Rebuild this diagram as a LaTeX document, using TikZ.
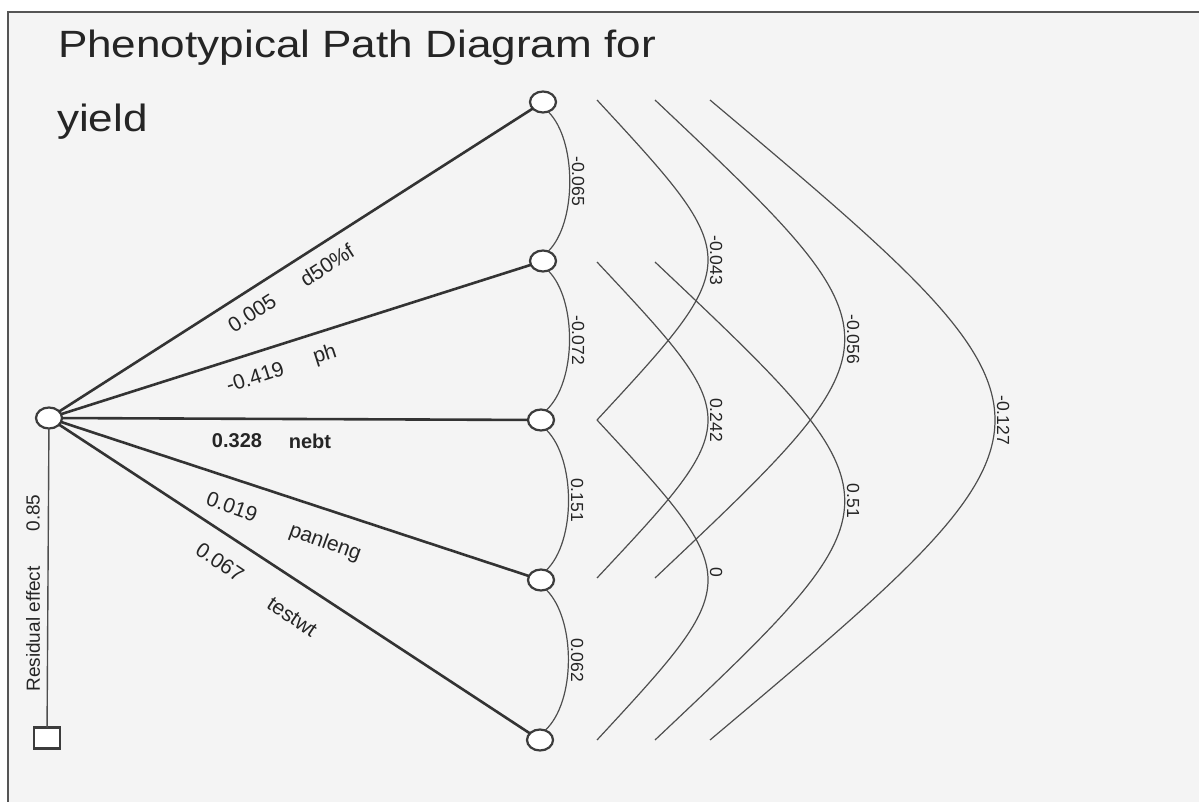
\documentclass[tikz,border=0pt]{standalone}
\usepackage{fontspec}
\setmainfont{Liberation Sans}
\newfontfamily\titlefont[FakeStretch=1.16]{Liberation Sans}
\usetikzlibrary{shapes.geometric}
\definecolor{linegray}{HTML}{333333}
\definecolor{nodegray}{HTML}{3C3C3C}
\definecolor{arcgray}{HTML}{4E4E4E}
\definecolor{txt}{HTML}{252525}
\definecolor{paper}{HTML}{F4F4F4}
\definecolor{framegray}{HTML}{555555}
\begin{document}
\begin{tikzpicture}[x=1pt,y=-1pt,
  every node/.style={inner sep=0pt, outer sep=0pt},
  var/.style={draw=nodegray, line width=2.2pt, fill=white, ellipse, minimum width=26pt, minimum height=21pt},
  resid/.style={draw=nodegray, line width=2.2pt, fill=white, rectangle, minimum width=26pt, minimum height=21pt},
  pathline/.style={draw=linegray, line width=2.6pt},
  corr/.style={draw=arcgray, line width=1.2pt},
  elabel/.style={font=\fontsize{21}{21}\selectfont, text=txt},
  blabel/.style={font=\bfseries\fontsize{20}{20}\selectfont, text=txt},
  clabel/.style={font=\fontsize{17.5}{17.5}\selectfont, text=txt, rotate=-90, anchor=south, inner sep=2pt},
  rlabel/.style={font=\fontsize{19}{19}\selectfont, text=txt, rotate=90},
  titlestyle/.style={font=\titlefont\fontsize{38}{38}\selectfont, text=txt, anchor=base west},
]
\useasboundingbox (0,0) rectangle (1199,802);
\fill[white] (0,0) rectangle (1199,802);
\fill[paper] (8,12) rectangle (1199,802);
\draw[framegray, line width=2.5pt] (8,802) -- (8,12) -- (1199,12);

% title
\node[titlestyle] (title1) at (58,58) {Phenotypical Path Diagram for};
\node[titlestyle] (title2) at (57,132) {yield};

% nodes
\node[var] (root) at (49,418) {};
\node[var] (n1) at (543,102) {};
\node[var] (n2) at (543,261) {};
\node[var] (n3) at (541,420) {};
\node[var] (n4) at (541,580) {};
\node[var] (n5) at (540,740) {};
\node[resid] (res) at (47,738) {};

% path lines
\draw[pathline] (root) -- (n1);
\draw[pathline] (root) -- (n2);
\draw[pathline] (root) -- (n3);
\draw[pathline] (root) -- (n4);
\draw[pathline] (root) -- (n5);
\draw[corr, line width=1.4pt] (root) -- (res);

% path labels
\node[elabel, rotate=32.7] (l1a) at (252,313) {0.005};
\node[elabel, rotate=32.7] (l1b) at (327,265) {d50\%f};
\node[elabel, rotate=17.8] (l2a) at (255,377) {-0.419};
\node[elabel, rotate=17.8] (l2b) at (325,355) {ph};
\node[blabel] (l3a) at (237,441) {0.328};
\node[blabel] (l3b) at (310,441) {nebt};
\node[elabel, rotate=-20] (l4a) at (232,507) {0.019};
\node[elabel, rotate=-20] (l4b) at (325,543) {panleng};
\node[elabel, rotate=-34] (l5a) at (220,562) {0.067};
\node[elabel, rotate=-34] (l5b) at (292,617) {testwt};

% residual
\node[rlabel] (r1) at (33,513) {0.85};
\node[rlabel] (r2) at (33,629) {Residual effect};

% adjacent correlations
\draw[corr] (n1.-62) .. controls (577,140) and (577,223) .. (n2.62);
\node[clabel] (c12) at (570,181) {-0.065};
\draw[corr] (n2.-62) .. controls (577,299) and (577,382) .. (n3.62);
\node[clabel] (c23) at (570,340) {-0.072};
\draw[corr] (n3.-62) .. controls (576,459) and (576,542) .. (n4.62);
\node[clabel] (c34) at (569,500) {0.151};
\draw[corr] (n4.-62) .. controls (576,619) and (576,702) .. (n5.62);
\node[clabel] (c45) at (569,660) {0.062};

% longer correlations
\coordinate (a0) at (597,100); \coordinate (a1) at (597,420);
\coordinate (b0) at (597,262); \coordinate (b1) at (597,578);
\coordinate (c0) at (597,420); \coordinate (c1) at (597,740);
\coordinate (d0) at (655,100); \coordinate (d1) at (655,578);
\coordinate (e0) at (655,262); \coordinate (e1) at (655,740);
\coordinate (f0) at (710,100); \coordinate (f1) at (710,740);

\draw[corr] (a0) .. controls (745,260) and (745,260) .. (a1);
\node[clabel] (c13) at (708,260) {-0.043};
\draw[corr] (b0) .. controls (745,420) and (745,420) .. (b1);
\node[clabel] (c24) at (708,420) {0.242};
\draw[corr] (c0) .. controls (745,580) and (745,580) .. (c1);
\node[clabel] (c35) at (708,572) {0};
\draw[corr] (d0) .. controls (908,339) and (908,339) .. (d1);
\node[clabel] (c14) at (845,339) {-0.056};
\draw[corr] (e0) .. controls (908,501) and (908,501) .. (e1);
\node[clabel] (c25) at (845,501) {0.51};
\draw[corr] (f0) .. controls (1090,420) and (1090,420) .. (f1);
\node[clabel] (c15) at (995,420) {-0.127};
\end{tikzpicture}
\end{document}
